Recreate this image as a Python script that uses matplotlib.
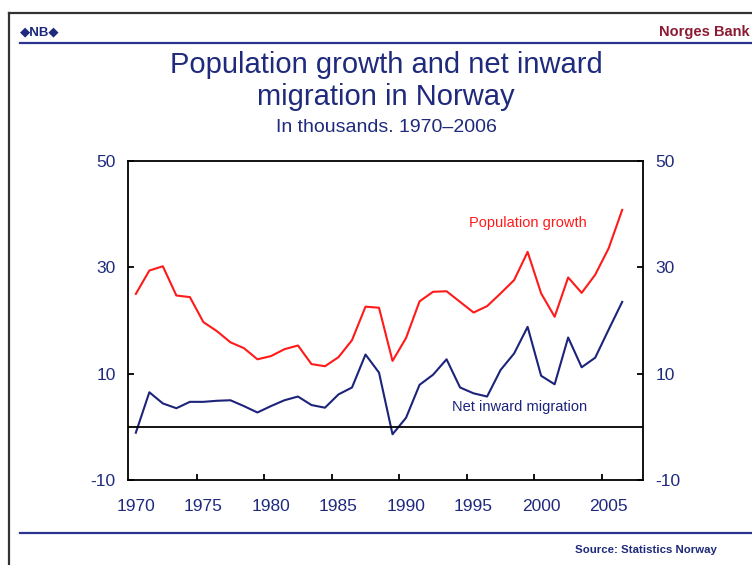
import numpy as np
import matplotlib
matplotlib.use("Agg")
import matplotlib.pyplot as plt
from matplotlib.lines import Line2D

plt.rcParams['font.family'] = ['Liberation Sans', 'DejaVu Sans']

# Data (thousands)
years = list(range(1970, 2007))
population_growth = [25.0, 29.4, 30.2, 24.7, 24.4, 19.7, 18.0, 15.9, 14.8, 12.7,
                     13.3, 14.6, 15.3, 11.8, 11.4, 13.1, 16.3, 22.6, 22.4, 12.4,
                     16.7, 23.6, 25.4, 25.5, 23.5, 21.5, 22.7, 25.1, 27.6, 32.9,
                     25.1, 20.7, 28.1, 25.2, 28.6, 33.6, 40.8]
net_migration = [-1.1, 6.5, 4.4, 3.5, 4.7, 4.7, 4.9, 5.0, 3.9, 2.7,
                 3.9, 5.0, 5.7, 4.1, 3.6, 6.1, 7.4, 13.6, 10.2, -1.4,
                 1.7, 7.9, 9.8, 12.7, 7.4, 6.3, 5.7, 10.7, 13.8, 18.8,
                 9.6, 8.0, 16.8, 11.2, 13.0, 18.3, 23.5]
year_labels = [1970, 1975, 1980, 1985, 1990, 1995, 2000, 2005]
y_ticks = [-10, 10, 30, 50]

navy = '#1f2a7c'
red = '#ff1a1a'
blue = '#1c237a'

fig = plt.figure(figsize=(7.52, 5.65), dpi=100)
W, H = 752, 565

def fx(px):
    return px / W

def fy(py):
    return 1 - py / H

# page frame (left and top edges only)
fig.add_artist(Line2D([fx(9), fx(9)], [fy(13), 0], color='#333333', lw=1.6))
fig.add_artist(Line2D([fx(9), 1], [fy(13), fy(13)], color='#333333', lw=1.6))
# header / footer rules
fig.add_artist(Line2D([fx(20), 1], [fy(43), fy(43)], color='#2b3590', lw=1.6))
fig.add_artist(Line2D([fx(20), 1], [fy(533), fy(533)], color='#2b3590', lw=1.6))

fig.text(fx(20), fy(32), '◆NB◆', color=navy, fontsize=9.5, fontweight='bold',
         va='center', ha='left')
fig.text(fx(750), fy(32), 'Norges Bank', color='#8b1a32', fontsize=10.5,
         fontweight='bold', va='center', ha='right')
fig.text(fx(717), fy(550), 'Source: Statistics Norway', color=navy, fontsize=8.2,
         fontweight='bold', va='center', ha='right')

fig.text(fx(386), fy(65), 'Population growth and net inward', color=navy,
         fontsize=21, ha='center', va='center')
fig.text(fx(386), fy(97), 'migration in Norway', color=navy,
         fontsize=21, ha='center', va='center')
fig.text(fx(386), fy(128), 'In thousands. 1970–2006', color=navy,
         fontsize=14, ha='center', va='center')

ax = fig.add_axes([fx(128), fy(480), fx(643) - fx(128), fy(161) - fy(480)])
ax.plot(years, population_growth, color=red, lw=1.5)
ax.plot(years, net_migration, color=blue, lw=1.5)
ax.axhline(0, color='black', lw=1.3)

ax.set_xlim(1969.42, 2007.54)
ax.set_ylim(-10, 50)

ax.set_xticks(year_labels)
ax.set_xticklabels([str(y) for y in year_labels])
ax.set_xticks([y - 0.5 for y in year_labels[1:]], minor=True)
ax.tick_params(axis='x', which='major', length=0, pad=14, labelsize=12.5,
               labelcolor=navy)
ax.tick_params(axis='x', which='minor', direction='in', length=4.5, width=1.3,
               color='black')

ax.set_yticks(y_ticks)
ax.set_yticklabels([str(v) for v in y_ticks])
ax.tick_params(axis='y', direction='in', length=4.5, width=1.3, left=True,
               right=True, labelleft=True, labelright=True, labelsize=12.5,
               labelcolor=navy, pad=9)

for sp in ax.spines.values():
    sp.set_linewidth(1.3)
    sp.set_color('black')

ax.text(1999.0, 38.3, 'Population growth', color=red, fontsize=10.5,
        ha='center', va='center')
ax.text(1998.4, 3.7, 'Net inward migration', color=blue, fontsize=10.5,
        ha='center', va='center')

fig.savefig('out.png', dpi=100)
